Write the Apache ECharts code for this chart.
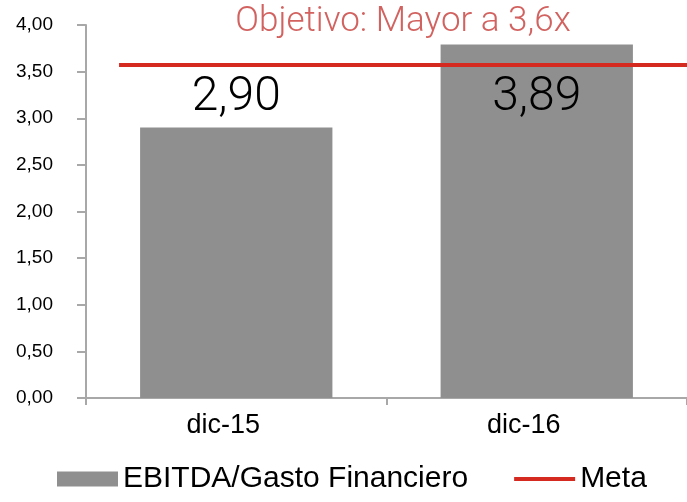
<!DOCTYPE html>
<html>
<head>
<meta charset="utf-8">
<script src="https://cdn.jsdelivr.net/npm/echarts@6/dist/echarts.min.js"></script>
<style>
  html, body { margin: 0; padding: 0; background: #fff; }
  #main { width: 687px; height: 502px; }
</style>
</head>
<body>
<div id="main"></div>
<script>
// datos
var categorias = ["dic-15", "dic-16"];
var ratio = [2.90, 3.79];              // altura de las barras
var etiquetas = ["2,90", "3,89"];      // texto que muestra cada barra
var metaX = [0.11, 2];                 // tramo de la linea meta (eje x auxiliar 0..2)
var metaY = [3.57, 3.57];
var yTicks = [0, 0.5, 1, 1.5, 2, 2.5, 3, 3.5, 4];

var gris = "#8f8f8f";
var rojo = "#d42a20";
var ejeGris = "#a8a8a8";

var myChart = echarts.init(document.getElementById("main"));

var barData = ratio.map(function (v, i) {
  return {
    value: v,
    label: i === 0
      ? { position: "top", distance: 6 }
      : { position: "insideTop", distance: 29 }
  };
});

var option = {
  animation: false,
  title: {
    text: "Objetivo: Mayor a 3,6x",
    left: 398,
    textAlign: "center",
    top: 0,
    textStyle: {
      color: "#d2625f",
      fontFamily: "Roboto",
      fontWeight: 300,
      fontSize: 35
    }
  },
  grid: { left: 86, right: 0, top: 25, bottom: 104 },
  legend: {
    bottom: 3,
    left: 52,
    itemWidth: 61,
    itemHeight: 15,
    itemGap: 46,
    textStyle: { color: "#000", fontFamily: "Liberation Sans", fontSize: 30 },
    data: [
      { name: "EBITDA/Gasto Financiero", icon: "rect" },
      // solo la raya roja, sin simbolo
      { name: "Meta", icon: "path://M0,0L0,0M0,5.5L61,5.5L61,9.5L0,9.5ZM61,15L61,15" }
    ]
  },
  xAxis: [
    {
      type: "category",
      data: categorias,
      axisLine: { lineStyle: { color: ejeGris, width: 2 } },
      axisTick: { show: true, length: 7, lineStyle: { color: ejeGris, width: 2 } },
      axisLabel: {
        color: "#000",
        fontFamily: "Liberation Sans",
        fontSize: 27,
        margin: 14,
        padding: [0, 26, 0, 0]
      }
    },
    {
      type: "value",
      min: 0,
      max: 2,
      show: false
    }
  ],
  yAxis: {
    type: "value",
    min: 0,
    max: 4,
    interval: 0.5,
    splitLine: { show: false },
    axisLine: { show: true, lineStyle: { color: ejeGris, width: 2 } },
    axisTick: { show: true, length: 9, lineStyle: { color: ejeGris, width: 2 } },
    axisLabel: {
      color: "#000",
      fontFamily: "Liberation Sans",
      fontSize: 19,
      margin: 33,
      formatter: function (v) {
        if (yTicks.indexOf(v) < 0) return "";
        return v.toFixed(2).replace(".", ",");
      }
    }
  },
  series: [
    {
      name: "EBITDA/Gasto Financiero",
      type: "bar",
      data: barData,
      barWidth: "64%",
      itemStyle: { color: gris },
      label: {
        show: true,
        color: "#000",
        fontFamily: "Roboto",
        fontWeight: 300,
        fontSize: 48,
        formatter: function (p) { return etiquetas[p.dataIndex]; }
      }
    },
    {
      name: "Meta",
      type: "line",
      xAxisIndex: 1,
      data: metaX.map(function (x, i) { return [x, metaY[i]]; }),
      symbol: "none",
      itemStyle: { color: rojo },
      lineStyle: { color: rojo, width: 4 },
      z: 5
    }
  ]
};

myChart.setOption(option);
</script>
</body>
</html>
